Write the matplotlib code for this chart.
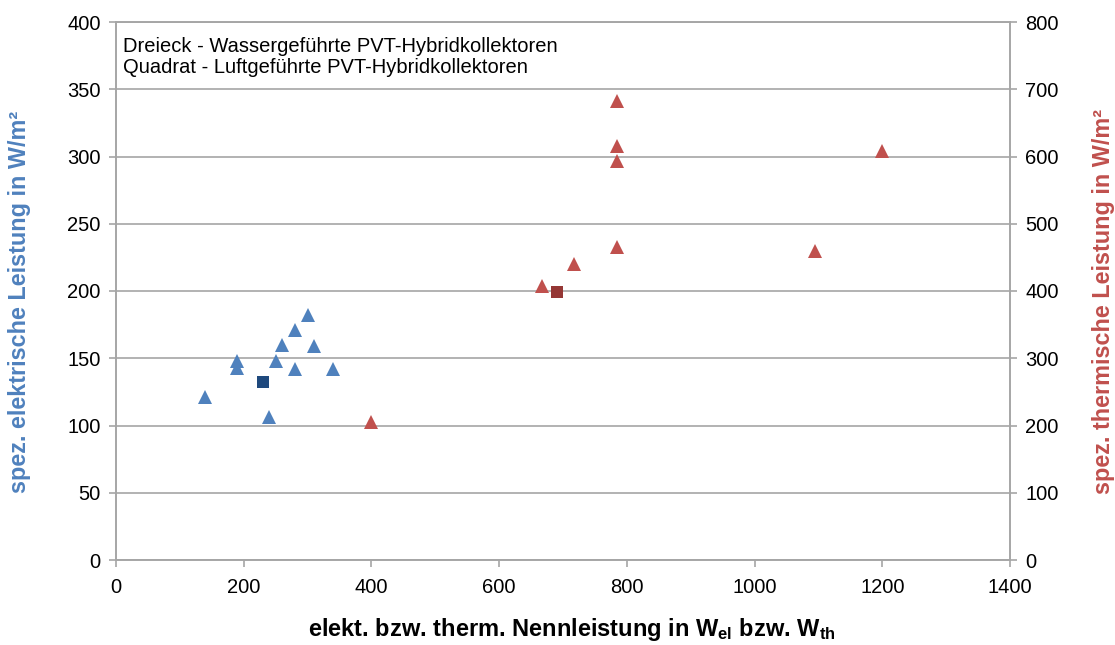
import matplotlib
matplotlib.use("Agg")
import matplotlib.pyplot as plt

plt.rcParams['font.family'] = ['Liberation Sans', 'DejaVu Sans']
plt.rcParams['mathtext.fontset'] = 'custom'
plt.rcParams['mathtext.rm'] = 'Liberation Sans'
plt.rcParams['mathtext.bf'] = 'Liberation Sans:bold'

# Wassergeführte PVT (Dreieck) - elektrisch, linke Achse
el_tri_x = [140, 190, 190, 240, 250, 260, 280, 300, 280, 310, 340]
el_tri_y = [121, 148, 143, 106, 148, 160, 171, 182, 142, 159, 142]
# Luftgeführte PVT (Quadrat) - elektrisch
el_sq_x = [230]
el_sq_y = [132]

# Wassergeführte PVT (Dreieck) - thermisch, rechte Achse
th_tri_x = [400, 667, 718, 785, 785, 785, 785, 1095, 1200]
th_tri_y = [205, 408, 440, 465, 594, 615, 683, 459, 608]
# Luftgeführte PVT (Quadrat) - thermisch
th_sq_x = [690]
th_sq_y = [398]

grid_col = '#A6A6A6'
blue = '#4F81BD'
red = '#C0504D'
narrow = ['Liberation Sans Narrow', 'Liberation Sans', 'DejaVu Sans']

fig = plt.figure(figsize=(11.15, 6.45), dpi=100)
ax = fig.add_axes([116/1115, 85/645, 894/1115, 538/645])
ax2 = ax.twinx()

ax.set_xlim(0, 1400)
ax.set_ylim(0, 400)
ax2.set_ylim(0, 800)
ax.set_xticks(range(0, 1401, 200))
ax.set_yticks(range(0, 401, 50))
ax2.set_yticks(range(0, 801, 100))

ax.grid(axis='y', color=grid_col, linewidth=1.2)
ax.grid(axis='x', visible=False)
ax.set_axisbelow(True)

for a in (ax, ax2):
    for s in a.spines.values():
        s.set_color(grid_col)
        s.set_linewidth(1.2)
    a.tick_params(colors=grid_col, labelcolor='black', labelsize=14.5,
                  length=5, width=1.2, direction='out')
ax.tick_params(axis='x', pad=8)
ax.tick_params(axis='y', pad=6)
ax2.tick_params(axis='y', pad=6)

ax.plot(el_tri_x, el_tri_y, linestyle='none', marker='^', markersize=10,
        color=blue, markeredgewidth=0, zorder=3)
ax.plot(el_sq_x, el_sq_y, linestyle='none', marker='s', markersize=8.8,
        color='#1F497D', markeredgewidth=0, zorder=3)
ax2.plot(th_tri_x, th_tri_y, linestyle='none', marker='^', markersize=10,
         color=red, markeredgewidth=0, zorder=3)
ax2.plot(th_sq_x, th_sq_y, linestyle='none', marker='s', markersize=8.8,
         color='#953735', markeredgewidth=0, zorder=3)

ax.set_xlabel(r'elekt. bzw. therm. Nennleistung in $\mathbf{W_{el}}$ bzw. $\mathbf{W_{th}}$',
              fontsize=17, fontweight='bold')
ax.xaxis.set_label_coords(0.51, -0.104)
ax.set_ylabel('spez. elektrische Leistung in W/m²', fontsize=16.8,
              fontweight='bold', color=blue, family=narrow)
ax2.set_ylabel('spez. thermische Leistung in W/m²', fontsize=16.8,
               fontweight='bold', color=red, family=narrow)
ax.yaxis.set_label_coords(-0.0951, 0.48)
ax2.yaxis.set_label_coords(1.0917, 0.48)

ax.text(0.008, 0.972, 'Dreieck - Wassergeführte PVT-Hybridkollektoren\n'
        'Quadrat - Luftgeführte PVT-Hybridkollektoren',
        transform=ax.transAxes, ha='left', va='top', fontsize=14.5,
        linespacing=1.12, zorder=5,
        bbox=dict(facecolor='white', edgecolor='none', pad=2))

fig.savefig('out.png', dpi=100, facecolor='white')
